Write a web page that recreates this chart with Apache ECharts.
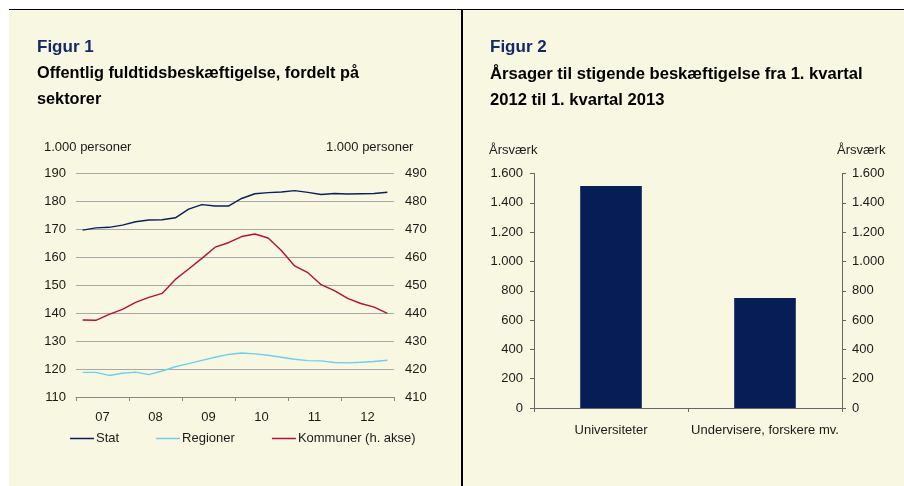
<!DOCTYPE html>
<html>
<head>
<meta charset="utf-8">
<script src="https://cdn.jsdelivr.net/npm/echarts@6/dist/echarts.min.js"></script>
<style>
html,body{margin:0;padding:0;background:#fff;}
#c{width:904px;height:486px;}
</style>
</head>
<body>
<div id="c"></div>
<script>
// ---- Figur 1 data (quarterly 2007-2012) ----
var quarters = ['07K1','07K2','07K3','07K4','08K1','08K2','08K3','08K4','09K1','09K2','09K3','09K4',
                '10K1','10K2','10K3','10K4','11K1','11K2','11K3','11K4','12K1','12K2','12K3','12K4'];
var years = ['07','08','09','10','11','12'];
var stat = [169.6,170.4,170.6,171.4,172.6,173.2,173.3,174.0,177.1,178.7,178.2,178.2,
            180.9,182.6,183.0,183.2,183.7,183.1,182.3,182.7,182.5,182.6,182.7,183.1];
var regioner = [118.8,118.8,117.7,118.5,118.9,118.0,119.3,120.8,121.9,123.1,124.2,125.2,
                125.7,125.4,124.9,124.2,123.5,123.0,122.9,122.3,122.2,122.4,122.7,123.1];
var kommuner = [437.5,437.4,439.5,441.3,443.8,445.6,447.0,452.0,455.7,459.5,463.5,465.1,
                467.3,468.2,466.8,462.3,456.8,454.4,450.1,448.0,445.2,443.4,442.1,439.9];
var seriesNames = ['Stat','Regioner','Kommuner (h. akse)'];

// ---- Figur 2 data ----
var barCategories = ['Universiteter','Undervisere, forskere mv.'];
var barValues = [1515, 750];

var FONT = 'Liberation Sans, Arial, sans-serif';
var TXT = '#1a1a1a';
function thousands(v){ return String(v).replace(/\B(?=(\d{3})+(?!\d))/g, '.'); }

var chart = echarts.init(document.getElementById('c'), null, {renderer:'canvas'});
var FS = 13;
var lbl = {color:TXT, fontFamily:FONT, fontSize:FS};

chart.setOption({
  backgroundColor:'#ffffff',
  animation:false,
  textStyle:{fontFamily:FONT},
  graphic:[
    {type:'rect', z:-100, silent:true, shape:{x:9,y:10,width:895,height:476}, style:{fill:'#f8f7e1'}},
    {type:'line', z:100, shape:{x1:9,y1:9.5,x2:904,y2:9.5}, style:{stroke:'#000',lineWidth:1}},
    {type:'line', z:100, shape:{x1:462,y1:9,x2:462,y2:486}, style:{stroke:'#000',lineWidth:2}},
    {type:'text', left:37, top:39, style:{text:'Figur 1', fill:'#13296b', font:'bold 17px '+FONT}},
    {type:'text', left:37, top:66, style:{text:'Offentlig fuldtidsbeskæftigelse, fordelt på', fill:'#000', font:'bold 16.3px '+FONT}},
    {type:'text', left:37, top:92, style:{text:'sektorer', fill:'#000', font:'bold 16.3px '+FONT}},
    {type:'text', left:490, top:39, style:{text:'Figur 2', fill:'#13296b', font:'bold 17px '+FONT}},
    {type:'text', left:490, top:66, style:{text:'Årsager til stigende beskæftigelse fra 1. kvartal', fill:'#000', font:'bold 16.6px '+FONT}},
    {type:'text', left:490, top:92, style:{text:'2012 til 1. kvartal 2013', fill:'#000', font:'bold 16.6px '+FONT}},
    {type:'text', left:44, top:141, style:{text:'1.000 personer', fill:TXT, font:FS+'px '+FONT}},
    {type:'text', left:326, top:141, style:{text:'1.000 personer', fill:TXT, font:FS+'px '+FONT}},
    {type:'text', left:489, top:144, style:{text:'Årsværk', fill:TXT, font:FS+'px '+FONT}},
    {type:'text', left:837, top:144, style:{text:'Årsværk', fill:TXT, font:FS+'px '+FONT}}
  ],
  legend:{
    data:seriesNames.map(function(n){return {name:n, icon:'rect'};}),
    left:65, top:427, itemWidth:24, itemHeight:1.5, itemGap:37,
    textStyle:{color:TXT, fontFamily:FONT, fontSize:FS, padding:[0,0,0,-3]}
  },
  grid:[
    {left:76, right:510, top:173, bottom:89},
    {left:534, right:62, top:173.5, bottom:78}
  ],
  xAxis:[
    {type:'category', gridIndex:0, data:quarters, boundaryGap:true,
     axisLine:{show:true, lineStyle:{color:'#888', width:1}},
     axisTick:{show:true, interval:3, length:4, lineStyle:{color:'#888'}},
     axisLabel:{show:false}, splitLine:{show:false}},
    {type:'category', gridIndex:0, data:years, boundaryGap:true, position:'bottom',
     axisLine:{show:false}, axisTick:{show:false},
     axisLabel:Object.assign({margin:14}, lbl)},
    {type:'category', gridIndex:1, data:barCategories, boundaryGap:true,
     axisLine:{show:true, lineStyle:{color:'#666', width:1}},
     axisTick:{show:true, length:4, lineStyle:{color:'#666'}},
     axisLabel:Object.assign({margin:16, interval:0}, lbl)}
  ],
  yAxis:[
    {type:'value', gridIndex:0, min:110, max:190, interval:10, position:'left',
     axisLine:{show:false}, axisTick:{show:false},
     axisLabel:Object.assign({margin:10}, lbl),
     splitLine:{show:true, lineStyle:{color:'#a8a8a8', width:1}}},
    {type:'value', gridIndex:0, min:410, max:490, interval:10, position:'right',
     axisLine:{show:false}, axisTick:{show:false},
     axisLabel:Object.assign({margin:11}, lbl),
     splitLine:{show:false}},
    {type:'value', gridIndex:1, min:0, max:1600, interval:200, position:'left',
     axisLine:{show:true, lineStyle:{color:'#666'}}, axisTick:{show:true, length:4, lineStyle:{color:'#666'}},
     axisLabel:Object.assign({margin:11, formatter:thousands}, lbl),
     splitLine:{show:false}},
    {type:'value', gridIndex:1, min:0, max:1600, interval:200, position:'right',
     axisLine:{show:true, lineStyle:{color:'#666'}}, axisTick:{show:true, length:4, lineStyle:{color:'#666'}},
     axisLabel:Object.assign({margin:10, formatter:thousands}, lbl),
     splitLine:{show:false}}
  ],
  series:[
    {name:seriesNames[0], type:'line', xAxisIndex:0, yAxisIndex:0, data:stat, symbol:'none',
     lineStyle:{color:'#0b1f5e', width:1.4}, itemStyle:{color:'#0b1f5e'}},
    {name:seriesNames[1], type:'line', xAxisIndex:0, yAxisIndex:0, data:regioner, symbol:'none',
     lineStyle:{color:'#6fcdef', width:1.4}, itemStyle:{color:'#6fcdef'}},
    {name:seriesNames[2], type:'line', xAxisIndex:0, yAxisIndex:1, data:kommuner, symbol:'none',
     lineStyle:{color:'#b3103f', width:1.4}, itemStyle:{color:'#b3103f'}},
    {name:'Årsværk', type:'bar', xAxisIndex:2, yAxisIndex:2, data:barValues, barWidth:'40%',
     itemStyle:{color:'#061d56'}}
  ]
});
</script>
</body>
</html>
